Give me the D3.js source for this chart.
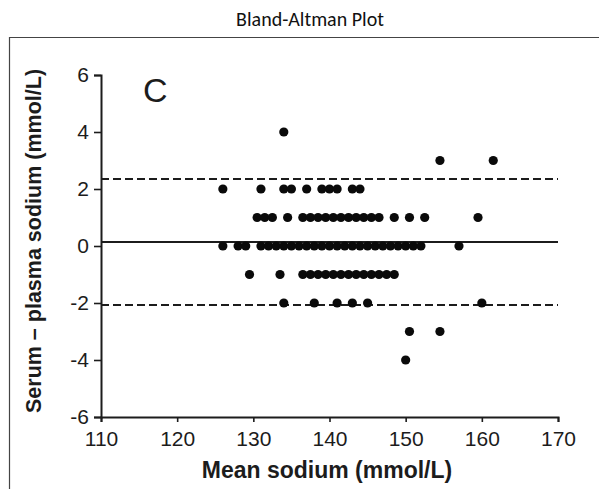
<!DOCTYPE html>
<html>
<head>
<meta charset="utf-8">
<script src="https://cdn.jsdelivr.net/npm/d3@7/dist/d3.min.js"></script>
<style>
  html, body { margin: 0; padding: 0; background: #fff; }
  svg { display: block; }
</style>
</head>
<body>
<svg id="chart" width="599" height="489"></svg>
<script>
// ---- Data ----
const title = "Bland-Altman Plot";
const panelLabel = "C";
const xLabel = "Mean sodium (mmol/L)";
const yLabel = "Serum \u2013 plasma sodium (mmol/L)";
const xTicks = [110, 120, 130, 140, 150, 160, 170];
const yTicks = [-6, -4, -2, 0, 2, 4, 6];

// mean sodium (x) and serum-plasma difference (y), point by point
const meanSodium = [
  134,
  154.5, 161.5,
  126, 131, 134, 135, 137, 139, 140, 141, 143, 144,
  130.5, 131.5, 132.5, 134.5, 136.5, 137.5, 138.5, 139.5, 140.5, 141.5, 142.5, 143.5, 144.5, 145.5, 146.5, 148.5, 150.5, 152.5, 159.5,
  126, 128, 129, 131, 132, 133, 134, 135, 136, 137, 138, 139, 140, 141, 142, 143, 144, 145, 146, 147, 148, 149, 150, 151, 152, 157,
  129.5, 133.5, 136.5, 137.5, 138.5, 139.5, 140.5, 141.5, 142.5, 143.5, 144.5, 145.5, 146.5, 147.5, 148.5,
  134, 138, 141, 143, 145, 160,
  150.5, 154.5,
  150
];
const difference = [
  4,
  3, 3,
  2, 2, 2, 2, 2, 2, 2, 2, 2, 2,
  1, 1, 1, 1, 1, 1, 1, 1, 1, 1, 1, 1, 1, 1, 1, 1, 1, 1, 1,
  0, 0, 0, 0, 0, 0, 0, 0, 0, 0, 0, 0, 0, 0, 0, 0, 0, 0, 0, 0, 0, 0, 0, 0, 0, 0,
  -1, -1, -1, -1, -1, -1, -1, -1, -1, -1, -1, -1, -1, -1, -1,
  -2, -2, -2, -2, -2, -2,
  -3, -3,
  -4
];
const meanDifference = 0.14;
const upperLimit = 2.35;
const lowerLimit = -2.07;

// ---- Drawing ----
const svg = d3.select("#chart");
const W = 599, H = 489;
const axisFont = "'Liberation Sans', Arial, Helvetica, sans-serif";
const ink = "#1c1c1c";

// title
svg.append("text")
  .attr("x", 310).attr("y", 26)
  .attr("text-anchor", "middle")
  .style("font-family", "Carlito, Lato, 'Open Sans', sans-serif")
  .style("font-size", "20px")
  .style("fill", "#111")
  .text(title);

// frame (left and top edges visible)
svg.append("path")
  .attr("d", `M9.5,${H} L9.5,37.5 L${W},37.5`)
  .attr("fill", "none")
  .attr("stroke", "#444")
  .attr("stroke-width", 1.2);

const x = d3.scaleLinear().domain([110, 170]).range([101, 558]);
const y = d3.scaleLinear().domain([-6, 6]).range([417, 75]);

// reference lines
const refs = [
  { v: meanDifference, dash: null, w: 2 },
  { v: upperLimit, dash: "8,4", w: 2 },
  { v: lowerLimit, dash: "8,4", w: 2 }
];
svg.append("g").selectAll("line").data(refs).join("line")
  .attr("x1", x(110)).attr("x2", x(170))
  .attr("y1", d => y(d.v)).attr("y2", d => y(d.v))
  .attr("stroke", ink)
  .attr("stroke-width", d => d.w)
  .attr("stroke-dasharray", d => d.dash);

// axes
const xAxis = d3.axisBottom(x).tickValues(xTicks).tickFormat(d => String(d)).tickSizeOuter(0).tickSize(5).tickPadding(9);
const yAxis = d3.axisLeft(y).tickValues(yTicks).tickFormat(d => String(d)).tickSizeOuter(0).tickSize(7).tickPadding(5);

const gx = svg.append("g").attr("transform", `translate(0,${y(-6)})`).call(xAxis);
const gy = svg.append("g").attr("transform", `translate(${x(110)},0)`).call(yAxis);

[gx, gy].forEach(g => {
  g.select(".domain").attr("stroke", ink).attr("stroke-width", 2);
  g.selectAll(".tick line").attr("stroke", ink).attr("stroke-width", 1.6);
  g.selectAll(".tick text")
    .style("font-family", axisFont)
    .style("font-size", "21px")
    .style("fill", ink);
});

// points
const pts = meanSodium.map((m, i) => ({ m, d: difference[i] }));
svg.append("g").selectAll("circle").data(pts).join("circle")
  .attr("cx", d => x(d.m))
  .attr("cy", d => y(d.d))
  .attr("r", 4.6)
  .attr("fill", "#0a0a0a");

// panel label
svg.append("text")
  .attr("x", 143).attr("y", 102)
  .style("font-family", axisFont)
  .style("font-size", "34px")
  .style("fill", ink)
  .text(panelLabel);

// axis titles
svg.append("text")
  .attr("x", 327).attr("y", 478)
  .attr("text-anchor", "middle")
  .style("font-family", axisFont)
  .style("font-weight", "bold")
  .style("font-size", "23px")
  .style("fill", ink)
  .text(xLabel);

svg.append("text")
  .attr("transform", `translate(41,${(75 + 417) / 2 - 5}) rotate(-90)`)
  .attr("text-anchor", "middle")
  .style("font-family", axisFont)
  .style("font-weight", "bold")
  .style("font-size", "21.5px")
  .style("fill", ink)
  .text(yLabel);
</script>
</body>
</html>
